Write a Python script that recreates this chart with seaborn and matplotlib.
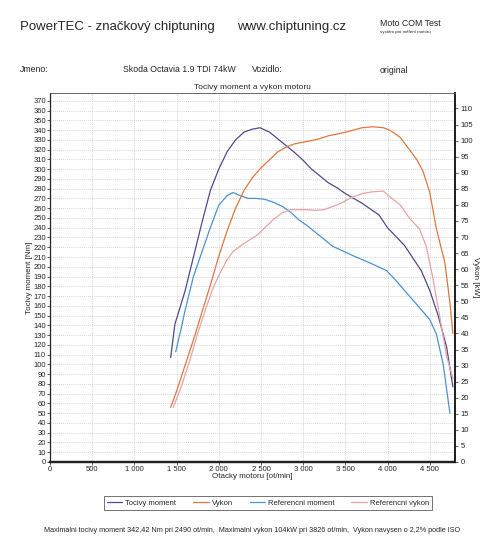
import matplotlib
matplotlib.use("Agg")
import matplotlib.pyplot as plt
from matplotlib.ticker import MultipleLocator, FuncFormatter
import seaborn as sns

# torque (Nm) vs engine speed
torque_rpm = [1430, 1480, 1540, 1600, 1700, 1800, 1900, 2000, 2100, 2200, 2300, 2400, 2490,
              2600, 2700, 2800, 2900, 3000, 3100, 3200, 3300, 3400, 3500, 3600, 3700, 3800,
              3900, 4000, 4100, 4200, 4300, 4400, 4500, 4600, 4700, 4775]
torque_nm = [107, 141, 158, 175, 210, 245, 278, 300, 318, 330, 338, 341, 342.4,
             338, 331, 324, 317, 309, 300, 293, 286, 281, 275, 270, 265, 259,
             253, 240, 231, 222, 209, 196, 176, 150, 118, 77]

# power (kW)
power_rpm = [1430, 1500, 1600, 1700, 1800, 1900, 2000, 2100, 2200, 2300, 2400, 2500, 2600,
             2700, 2800, 2900, 3000, 3100, 3200, 3300, 3400, 3500, 3600, 3700, 3826, 3950,
             4030, 4150, 4265, 4350, 4420, 4500, 4580, 4680, 4740, 4775]
power_kw = [17, 22, 30, 38, 46.5, 55, 64, 72, 79, 84.5, 88.5, 91.5, 94,
            96.5, 98, 99, 99.5, 100, 100.6, 101.5, 102, 102.6, 103.3, 104, 104.3, 104,
            103.2, 101, 97, 94, 90.5, 84, 72.5, 62, 49.5, 40]

# reference torque (Nm)
ref_torque_rpm = [1490, 1550, 1600, 1700, 1800, 1900, 2000, 2100, 2170, 2250, 2350, 2450,
                  2550, 2650, 2750, 2850, 2950, 3050, 3150, 3250, 3350, 3450, 3600, 3790,
                  3990, 4100, 4190, 4380, 4500, 4580, 4660, 4740]
ref_torque_nm = [113, 135, 155, 190, 215, 240, 263, 273, 276, 273, 270, 270,
                 269, 266, 262, 256, 248, 242, 235, 228, 221, 217, 211, 204,
                 196, 186, 177, 158, 146, 131, 100, 50]

# reference power (kW)
ref_power_rpm = [1460, 1550, 1650, 1750, 1850, 1930, 2000, 2100, 2170, 2300, 2450, 2550,
                 2650, 2750, 2850, 2950, 3050, 3150, 3250, 3350, 3450, 3550, 3700, 3800,
                 3950, 4030, 4150, 4265, 4380, 4460, 4540, 4620, 4700, 4775]
ref_power_kw = [17, 23, 31, 40, 48, 54, 58, 63, 65.5, 68, 70.5, 73,
                75.5, 77.5, 78.5, 78.5, 78.5, 78.3, 78.5, 79.5, 80.5, 82, 83.5, 84,
                84.3, 82.5, 80, 75.7, 72.5, 67, 57, 45, 33, 26]

header_left = "PowerTEC - značkový chiptuning"
header_mid = "www.chiptuning.cz"
summary = ("Maximalni tocivy moment 342,42 Nm pri 2490 ot/min,  Maximalni vykon 104kW pri "
           "3826 ot/min,  Vykon navysen o 2,2% podle ISO")

c_torque = "#4e4b8e"
c_power = "#e0763f"
c_ref_torque = "#4a92d2"
c_ref_power = "#eaa2a2"

sns.set_style("white")
plt.rcParams["font.family"] = ["Liberation Sans", "DejaVu Sans"]

fig = plt.figure(figsize=(4.8, 5.49), dpi=100)

ax = fig.add_axes([50 / 480, 1 - 462 / 549, 405 / 480, 369 / 549])
ax2 = ax.twinx()

sns.lineplot(x=torque_rpm, y=torque_nm, ax=ax, color=c_torque, lw=0.9, label="Tocivy moment", legend=False)
sns.lineplot(x=ref_torque_rpm, y=ref_torque_nm, ax=ax, color=c_ref_torque, lw=0.9, label="Referencni moment", legend=False)
sns.lineplot(x=power_rpm, y=power_kw, ax=ax2, color=c_power, lw=0.9, label="Vykon", legend=False)
sns.lineplot(x=ref_power_rpm, y=ref_power_kw, ax=ax2, color=c_ref_power, lw=0.9, label="Referencni vykon", legend=False)

ax.set_xlim(0, 4800)
ax.set_ylim(0, 378)
ax2.set_ylim(0, 114.8)

ax.xaxis.set_major_locator(MultipleLocator(500))
ax.yaxis.set_major_locator(MultipleLocator(10))
ax2.yaxis.set_major_locator(MultipleLocator(5))
ax.xaxis.set_major_formatter(FuncFormatter(lambda v, p: f"{int(v):,}".replace(",", " ")))

ax.grid(True, color="#c8c8c8", lw=0.5, ls=(0, (1.5, 1.5)))
ax.tick_params(labelsize=5.5, length=2, width=0.5, pad=1, direction="out", left=True, bottom=True)
ax2.tick_params(labelsize=5.5, length=2, width=0.5, pad=2, direction="out", right=True)

ax.set_xlabel("Otacky motoru [ot/min]", fontsize=5.8, labelpad=0)
ax.set_ylabel("Tocivy moment [Nm]", fontsize=5.8, labelpad=0)
ax2.set_ylabel("Vykon [kW]", fontsize=5.8, rotation=270, labelpad=4)
ax.set_title("Tocivy moment a vykon motoru", fontsize=6, pad=3)

for a in (ax, ax2):
    a.spines["top"].set_color("#666666")
    a.spines["top"].set_linewidth(0.6)
    a.spines["left"].set_linewidth(0.8)
    a.spines["bottom"].set_linewidth(1.6)
    a.spines["right"].set_linewidth(1.4)
    for s in ("left", "bottom", "right"):
        a.spines[s].set_color("#222222")

h1, l1 = ax.get_legend_handles_labels()
h2, l2 = ax2.get_legend_handles_labels()
handles = [h1[0], h2[0], h1[1], h2[1]]
labels = [l1[0], l2[0], l1[1], l2[1]]
leg = fig.legend(handles, labels, loc="center", bbox_to_anchor=(268 / 480, 1 - 503 / 549),
                 ncol=4, fontsize=5.5, frameon=True, fancybox=False, handlelength=2.0,
                 handletextpad=0.4, columnspacing=2.2, borderpad=0.4, edgecolor="#333333")
leg.get_frame().set_linewidth(0.6)

fig.text(20 / 480, 1 - 27 / 549, header_left, fontsize=9.5, va="center")
fig.text(237 / 480, 1 - 27 / 549, header_mid, fontsize=9.5, va="center")
fig.text(380 / 480, 1 - 24 / 549, "Moto COM Test", fontsize=6.3, va="center")
fig.text(380 / 480, 1 - 32 / 549, "systém pro měření motorů", fontsize=3.2, va="center")

fig.text(20 / 480, 1 - 69 / 549, "Jmeno:", fontsize=6.3, va="center")
fig.text(123 / 480, 1 - 69 / 549, "Skoda Octavia 1.9 TDI 74kW", fontsize=6.3, va="center")
fig.text(252 / 480, 1 - 69 / 549, "Vozidlo:", fontsize=6.3, va="center")
fig.text(380 / 480, 1 - 70 / 549, "original", fontsize=6.3, va="center")

fig.text(252 / 480, 1 - 531 / 549, summary, fontsize=5.2, ha="center", va="center")

fig.savefig("out.png", dpi=100)
